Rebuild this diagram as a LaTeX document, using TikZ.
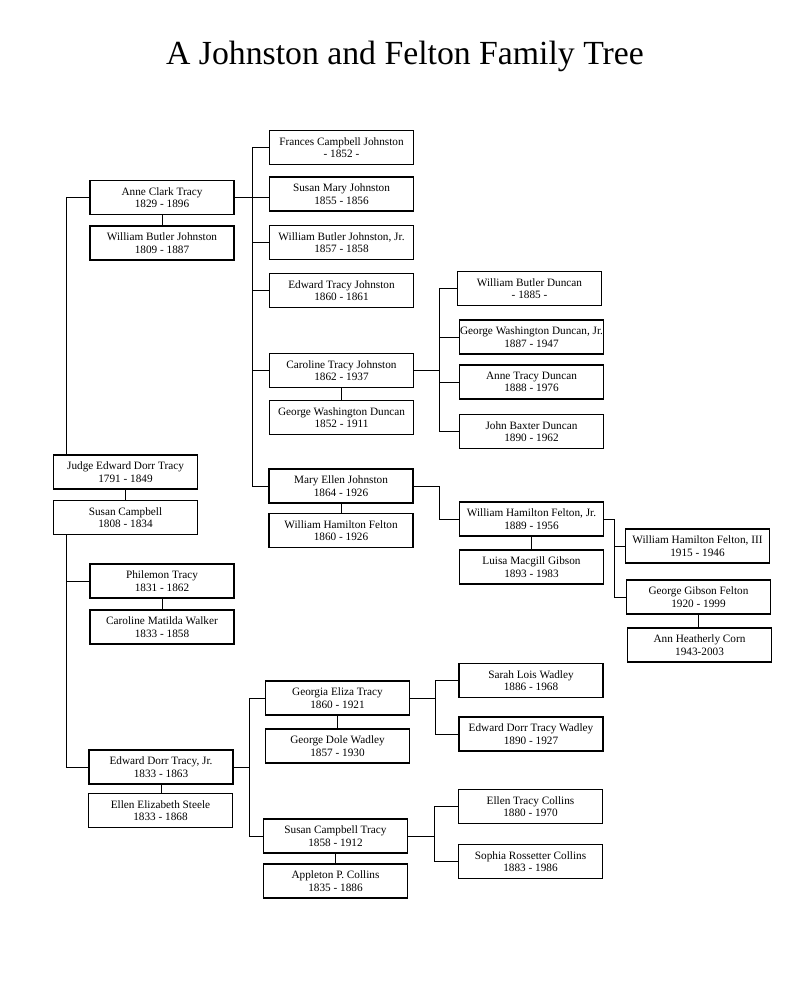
\documentclass[tikz,border=0pt]{standalone}
\usepackage{fontspec}
\setmainfont{Liberation Serif}
\usetikzlibrary{positioning, calc}

\begin{document}
\begin{tikzpicture}[x=0.025cm, y=-0.025cm]
\tikzset{
    person/.style={draw, line width=0.9pt, minimum width=3.6cm, minimum height=0.85cm,
        inner sep=0pt, align=center, font=\fontsize{8}{8.8}\selectfont},
    link/.style={line width=0.6pt},
    title/.style={font=\fontsize{24}{28}\selectfont}
}
\useasboundingbox (0,0) rectangle (800,997);

\node[title] (head) at (405,56) {A Johnston and Felton Family Tree};

\node[person] (act) at (162,197.5) {Anne Clark Tracy\\1829 - 1896};
\node[person] (wbj) at (162,243) {William Butler Johnston\\1809 - 1887};
\node[person] (jedt) at (125.5,472) {Judge Edward Dorr Tracy\\1791 - 1849};
\node[person] (sc) at (125.5,517.5) {Susan Campbell\\1808 - 1834};
\node[person] (pt) at (162,581) {Philemon Tracy\\1831 - 1862};
\node[person] (cmw) at (162,627) {Caroline Matilda Walker\\1833 - 1858};
\node[person] (edtjr) at (161,767) {Edward Dorr Tracy, Jr.\\1833 - 1863};
\node[person] (ees) at (160.5,810.5) {Ellen Elizabeth Steele\\1833 - 1868};

\node[person] (fcj) at (341.5,147.5) {Frances Campbell Johnston\\- 1852 -};
\node[person] (smj) at (341.5,194) {Susan Mary Johnston\\1855 - 1856};
\node[person] (wbjjr) at (341.5,242.5) {William Butler Johnston, Jr.\\1857 - 1858};
\node[person] (etj) at (341.5,290.5) {Edward Tracy Johnston\\1860 - 1861};
\node[person] (ctj) at (341.5,370.5) {Caroline Tracy Johnston\\1862 - 1937};
\node[person] (gwd) at (341.5,417.5) {George Washington Duncan\\1852 - 1911};
\node[person] (mej) at (341,486) {Mary Ellen Johnston\\1864 - 1926};
\node[person] (whf) at (341,530.5) {William Hamilton Felton\\1860 - 1926};
\node[person] (get) at (337.5,698) {Georgia Eliza Tracy\\1860 - 1921};
\node[person] (gdw) at (337.5,746) {George Dole Wadley\\1857 - 1930};
\node[person] (sct) at (335.5,836) {Susan Campbell Tracy\\1858 - 1912};
\node[person] (apc) at (335.5,881) {Appleton P. Collins\\1835 - 1886};

\node[person] (wbd) at (529.5,288.5) {William Butler Duncan\\- 1885 -};
\node[person] (gwdjr) at (531.5,337) {George Washington Duncan, Jr.\\1887 - 1947};
\node[person] (atd) at (531.5,382) {Anne Tracy Duncan\\1888 - 1976};
\node[person] (jbd) at (531.5,431.5) {John Baxter Duncan\\1890 - 1962};
\node[person] (whfjr) at (531.5,519) {William Hamilton Felton, Jr.\\1889 - 1956};
\node[person] (lmg) at (531.5,567) {Luisa Macgill Gibson\\1893 - 1983};
\node[person] (slw) at (531,680.5) {Sarah Lois Wadley\\1886 - 1968};
\node[person] (edtw) at (531,734) {Edward Dorr Tracy Wadley\\1890 - 1927};
\node[person] (etc) at (530.5,806.5) {Ellen Tracy Collins\\1880 - 1970};
\node[person] (src) at (530.5,861.5) {Sophia Rossetter Collins\\1883 - 1986};

\node[person] (whf3) at (697.5,546) {William Hamilton Felton, III\\1915 - 1946};
\node[person] (ggf) at (698.5,597) {George Gibson Felton\\1920 - 1999};
\node[person] (ahc) at (699.5,645) {Ann Heatherly Corn\\1943-2003};

\coordinate (trunk) at (66,0);
\coordinate (busj) at (252,0);
\coordinate (busd) at (439,0);
\coordinate (busf) at (439,0);
\coordinate (busg) at (614,0);
\coordinate (bust) at (249,0);
\coordinate (busw) at (435,0);
\coordinate (busc) at (434,0);

\foreach \a/\b in {act/wbj, jedt/sc, pt/cmw, edtjr/ees, ctj/gwd, mej/whf,
    get/gdw, sct/apc, whfjr/lmg, ggf/ahc}
    \draw[link] (\a.south) -- (\a.south |- \b.north);

\draw[link] (act.west) -| (trunk |- jedt.north);
\draw[link] (trunk |- sc.south) |- (edtjr.west);
\draw[link] (trunk |- pt.west) -- (pt.west);

\draw[link] (act.east) -- (act.east -| smj.west);
\draw[link] (fcj.west) -| (busj |- mej.west) -- (mej.west);
\foreach \n in {wbjjr, etj, ctj}
    \draw[link] (\n.west) -- (\n.west -| busj);

\draw[link] (ctj.east) -- (ctj.east -| busd);
\draw[link] (wbd.west) -| (busd |- jbd.west) -- (jbd.west);
\foreach \n in {gwdjr, atd}
    \draw[link] (\n.west) -- (\n.west -| busd);

\draw[link] (mej.east) -- (mej.east -| busf) |- (whfjr.west);
\draw[link] (whfjr.east) -| (busg |- ggf.west) -- (ggf.west);
\draw[link] (whf3.west) -- (whf3.west -| busg);

\draw[link] (edtjr.east) -- (edtjr.east -| bust);
\draw[link] (get.west) -| (bust |- sct.west) -- (sct.west);

\draw[link] (get.east) -- (get.east -| busw);
\draw[link] (slw.west) -| (busw |- edtw.west) -- (edtw.west);

\draw[link] (sct.east) -- (sct.east -| busc);
\draw[link] (etc.west) -| (busc |- src.west) -- (src.west);
\end{tikzpicture}
\end{document}
